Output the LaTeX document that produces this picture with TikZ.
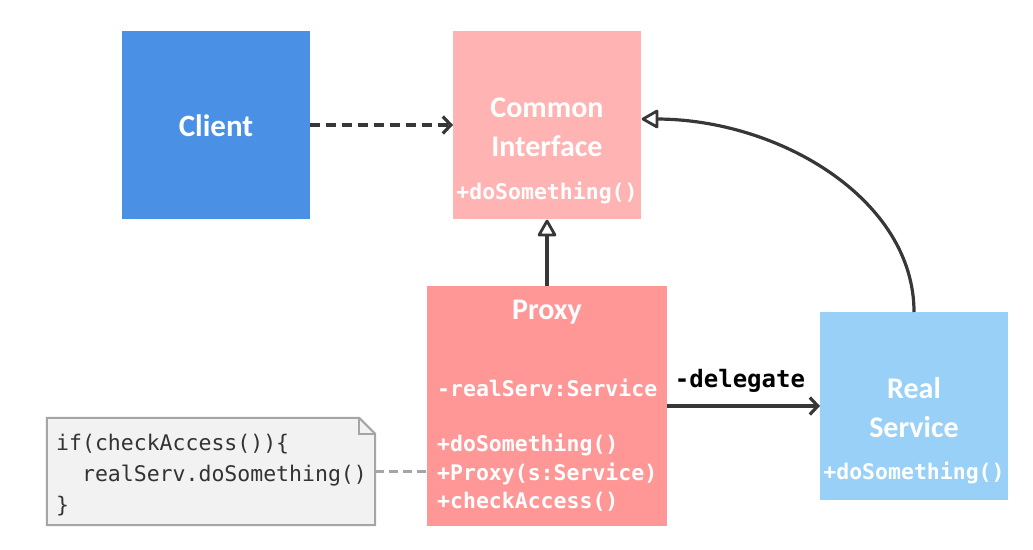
\documentclass[tikz,border=0pt]{standalone}
\usepackage{fontspec}
\setmainfont{Carlito}
\newfontfamily\monof{DejaVu Sans Mono}
\usetikzlibrary{arrows.meta}
\definecolor{clientblue}{RGB}{74,145,230}
\definecolor{cipink}{RGB}{255,179,179}
\definecolor{proxyred}{RGB}{255,151,151}
\definecolor{rsblue}{RGB}{153,208,248}
\definecolor{linegray}{RGB}{55,55,55}
\definecolor{notefill}{RGB}{242,242,242}
\definecolor{noteline}{RGB}{165,165,165}
\definecolor{notetext}{RGB}{51,51,51}
\begin{document}
\begin{tikzpicture}[x=1pt,y=-1pt,
  umlbox/.style={inner sep=0pt, outer sep=0pt, minimum width=#1, minimum height=#1},
  title/.style={font=\bfseries\fontsize{30}{36}\selectfont, text=white, inner sep=0pt},
  meth/.style={font=\monof\bfseries\fontsize{21.5}{26}\selectfont, text=white, inner sep=0pt},
  conn/.style={draw=linegray, line width=3.2pt},
  barb/.style={-{Straight Barb[length=8pt,width=17pt]}},
  hollowhead/.style={fill=white, draw=linegray, line width=2.8pt, line join=round}]
\useasboundingbox (0,0) rectangle (1033,549);

% boxes
\node[umlbox=188pt, fill=clientblue] (client) at (216,125) {};
\node[umlbox=188pt, fill=cipink] (ci) at (547,125) {};
\node[umlbox=240pt, fill=proxyred] (proxy) at (547,406) {};
\node[umlbox=188pt, fill=rsblue] (rs) at (914,406) {};

% texts
\node[title, font=\bfseries\fontsize{31}{36}\selectfont] (clientt) at (216,126) {Client};
\node[title] (cit1) at (547,108) {Common};
\node[title] (cit2) at (547,146) {Interface};
\node[meth] (cim) at (547,193) {+doSomething()};
\node[title] (pt) at (547,312) {Proxy};
\node[meth, anchor=west] (pa) at (437,388) {-realServ:Service};
\node[meth, anchor=west] (pm1) at (437,445) {+doSomething()};
\node[meth, anchor=west] (pm2) at (437,474) {+Proxy(s:Service)};
\node[meth, anchor=west] (pm3) at (437,502) {+checkAccess()};
\node[title] (rst1) at (914,388) {Real};
\node[title] (rst2) at (914,427) {Service};
\node[meth] (rsm) at (914,473) {+doSomething()};

% note
\node[inner sep=0pt, minimum width=328pt, minimum height=107pt] (note) at (211,471.5) {};
\coordinate (fa) at ([xshift=-16pt]note.north east);
\coordinate (fb) at ([yshift=-16pt]note.north east);
\filldraw[fill=notefill, draw=noteline, line width=2pt]
  (note.north west) -- (fa) -- (fb) -- (note.south east) -- (note.south west) -- cycle;
\draw[draw=noteline, line width=2pt] (fa) |- (fb);
\node[anchor=west, align=left, inner sep=0pt, text=notetext,
  font=\monof\fontsize{21.5}{31}\selectfont] (notet) at (56,475)
  {if(checkAccess())\{\\\phantom{xx}realServ.doSomething()\\\}};

% connectors
\draw[conn, barb, dash pattern=on 10pt off 6pt] (client) -- (ci);
% proxy -> common interface (realization)
\coordinate (cis) at ([yshift=-2pt]ci.south);
\coordinate (cisb) at ([yshift=-15pt]ci.south);
\draw[conn] (proxy.north) -- (cisb);
\filldraw[hollowhead] (cis) -- ++(-8,14) -- ++(16,0) -- cycle;
% real service -> common interface (realization)
\coordinate (cin) at ([xshift=2pt,yshift=6pt]ci.east);
\coordinate (cinb) at ([xshift=15pt,yshift=6pt]ci.east);
\draw[conn] (rs.north) .. controls +(0,-112) and +(124,0) .. (cinb);
\filldraw[hollowhead] (cin) -- ++(14,-8) -- ++(0,16) -- cycle;
% delegate
\draw[conn, barb] (proxy) -- (rs);
\node[font=\monof\bfseries\fontsize{24}{28}\selectfont, inner sep=0pt] (dl) at (740,381) {-delegate};
\draw[draw=noteline, line width=3pt, dash pattern=on 9pt off 5pt] (note.east) -- (note.east -| proxy.west);
\end{tikzpicture}
\end{document}
